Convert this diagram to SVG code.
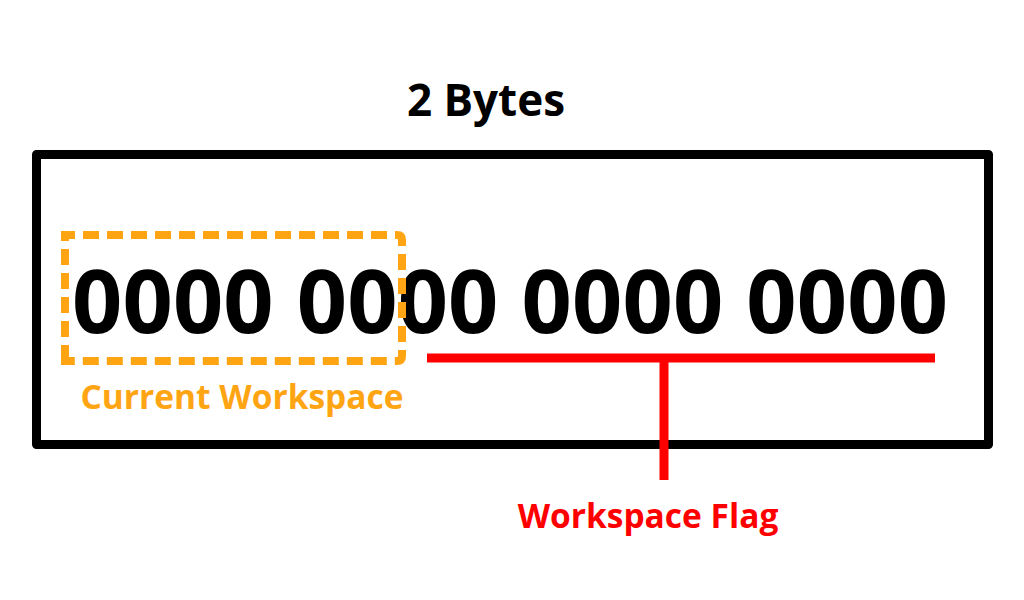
<svg xmlns="http://www.w3.org/2000/svg" width="1024" height="600" viewBox="0 0 1024 600">
<style>
text{font-family:"Open Sans","Noto Sans","Liberation Sans",sans-serif;font-weight:bold}
.big{font-size:88px;fill:#000}
.title{font-size:44px;fill:#000}
.lbl{font-size:33.5px}
</style>
<rect width="1024" height="600" fill="#fff"/>
<g id="register">
<rect x="36.5" y="154.5" width="952" height="290" fill="none" stroke="#000" stroke-width="9" stroke-linejoin="round"/>
<text class="title" x="486" y="116" text-anchor="middle">2 Bytes</text>
<text class="big" x="510" y="333" text-anchor="middle" textLength="876" lengthAdjust="spacing">0000 0000 0000 0000</text>
</g>
<g id="current-workspace">
<path d="M65 361 V235 H397 Q402 235 402 240 V356 Q402 361 397 361 Z" fill="none" stroke="#FFA514" stroke-width="8" stroke-dasharray="16 8"/>
<text class="lbl" x="242" y="409" text-anchor="middle" fill="#FFA514">Current Workspace</text>
</g>
<g id="connectors">
<path d="M427 358 H935 M664 358 V480" fill="none" stroke="#FF0000" stroke-width="9"/>
</g>
<g id="workspace-flag">
<text class="lbl" x="648" y="528" text-anchor="middle" fill="#FF0000">Workspace Flag</text>
</g>
</svg>
